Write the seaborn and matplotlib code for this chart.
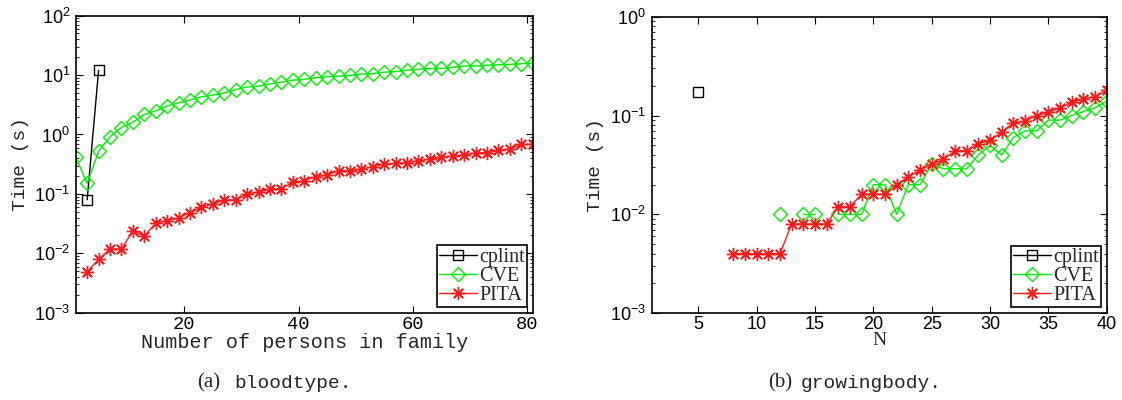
import numpy as np
import pandas as pd
import matplotlib
matplotlib.use("Agg")
import matplotlib.pyplot as plt
import seaborn as sns
from matplotlib.lines import Line2D
from matplotlib.ticker import LogLocator, FixedLocator, NullLocator, NullFormatter

# ---------------- data: (a) bloodtype ----------------
bt_cplint_x = [3, 5]
bt_cplint_y = [0.08, 12.0]

bt_cve_x = [1, 3, 5, 7, 9, 11, 13, 15, 17, 19, 21, 23, 25, 27, 29, 31, 33, 35, 37, 39, 41,
            43, 45, 47, 49, 51, 53, 55, 57, 59, 61, 63, 65, 67, 69, 71, 73, 75, 77, 79, 81]
bt_cve_y = [0.42, 0.15, 0.52, 0.91, 1.31, 1.61, 2.17, 2.5, 3.0, 3.4, 3.8, 4.3, 4.6, 5.0,
            5.7, 6.3, 6.5, 7.1, 7.6, 8.2, 8.5, 9.0, 9.4, 9.6, 9.9, 10.4, 10.5, 11.2, 11.4,
            12.1, 12.5, 12.9, 12.9, 13.5, 14.2, 14.2, 14.6, 14.9, 15.1, 15.5, 15.9]

bt_pita_x = [3, 5, 7, 9, 11, 13, 15, 17, 19, 21, 23, 25, 27, 29, 31, 33, 35, 37, 39, 41,
             43, 45, 47, 49, 51, 53, 55, 57, 59, 61, 63, 65, 67, 69, 71, 73, 75, 77, 79, 81]
bt_pita_y = [0.0049, 0.0079, 0.0118, 0.0118, 0.0238, 0.0196, 0.032, 0.0356, 0.0394, 0.0485,
             0.0596, 0.0678, 0.079, 0.079, 0.100, 0.108, 0.120, 0.123, 0.157, 0.166,
             0.196, 0.209, 0.244, 0.244, 0.261, 0.289, 0.316, 0.325, 0.337, 0.36,
             0.389, 0.41, 0.43, 0.45, 0.49, 0.49, 0.54, 0.57, 0.68, 0.68]

# ---------------- data: (b) growingbody ----------------
gb_cplint_x = [5]
gb_cplint_y = [0.175]

gb_cve_x = [12, 13, 14, 15, 16, 17, 18, 19, 20, 21, 22, 23, 24, 25, 26, 27, 28, 29, 30,
            31, 32, 33, 34, 35, 36, 37, 38, 39, 40]
gb_cve_y = [0.01, np.nan, 0.01, 0.01, np.nan, 0.01, 0.01, 0.01, 0.02, 0.02, 0.01, 0.02,
            0.02, 0.032, 0.029, 0.029, 0.029, 0.04, 0.05, 0.04, 0.06, 0.07, 0.07, 0.09,
            0.09, 0.10, 0.11, 0.12, 0.14]

gb_pita_x = [8, 9, 10, 11, 12, 13, 14, 15, 16, 17, 18, 19, 20, 21, 22, 23, 24, 25, 26, 27,
             28, 29, 30, 31, 32, 33, 34, 35, 36, 37, 38, 39, 40]
gb_pita_y = [0.004, 0.004, 0.004, 0.004, 0.004, 0.008, 0.008, 0.008, 0.008, 0.012, 0.012,
             0.016, 0.016, 0.016, 0.020, 0.024, 0.028, 0.032, 0.036, 0.044, 0.044, 0.052,
             0.056, 0.068, 0.084, 0.088, 0.100, 0.108, 0.120, 0.136, 0.148, 0.156, 0.180]

series_labels = ["cplint", "CVE", "PITA"]
bt_xticks = [20, 40, 60, 80]
gb_xticks = [5, 10, 15, 20, 25, 30, 35, 40]
captions = [("(a)", "bloodtype."), ("(b)", "growingbody.")]

# ---------------- style ----------------
sns.set_theme(style="ticks")
plt.rcParams["font.family"] = ["Liberation Sans", "DejaVu Sans"]
plt.rcParams["mathtext.fontset"] = "custom"
plt.rcParams["mathtext.rm"] = "Liberation Sans"
plt.rcParams["mathtext.it"] = "Liberation Sans:italic"
plt.rcParams["mathtext.default"] = "regular"

MONO = "Liberation Mono"
SERIF = "Liberation Serif"

STY = {
    "cplint": dict(color="black", marker="s", markersize=7.5, markerfacecolor="none"),
    "CVE": dict(color="#00f000", marker="D", markersize=6.8, markerfacecolor="none"),
    "PITA": dict(color="#ff1a1a", marker=(8, 2, 0), markersize=9.5, markerfacecolor="none"),
}


def draw(ax, x, y, name):
    st = STY[name]
    y = np.asarray(y, dtype=float)
    seg = np.cumsum(np.isnan(y))
    df = pd.DataFrame({"x": x, "y": y, "seg": seg}).dropna()
    sns.lineplot(data=df, x="x", y="y", units="seg", estimator=None, ax=ax,
                 color=st["color"], linewidth=1.0, marker=st["marker"],
                 markersize=st["markersize"], markerfacecolor=st["markerfacecolor"],
                 markeredgecolor=st["color"], markeredgewidth=1.0, legend=False)


fig = plt.figure(figsize=(11.22, 4.0), dpi=100)
ax1 = fig.add_axes([0.0675, 0.218, 0.4073, 0.743])
ax2 = fig.add_axes([0.5808, 0.217, 0.4056, 0.741])

draw(ax1, bt_cplint_x, bt_cplint_y, "cplint")
draw(ax1, bt_cve_x, bt_cve_y, "CVE")
draw(ax1, bt_pita_x, bt_pita_y, "PITA")

draw(ax2, gb_cplint_x, gb_cplint_y, "cplint")
draw(ax2, gb_cve_x, gb_cve_y, "CVE")
draw(ax2, gb_pita_x, gb_pita_y, "PITA")

for ax, ylim in ((ax1, (1e-3, 1e2)), (ax2, (1e-3, 1e0))):
    ax.set_yscale("log")
    ax.set_ylim(*ylim)
    ax.yaxis.set_major_locator(LogLocator(base=10, numticks=10))
    ax.yaxis.set_minor_locator(LogLocator(base=10, subs=np.arange(2, 10), numticks=10))
    ax.yaxis.set_minor_formatter(NullFormatter())
    ax.xaxis.set_minor_locator(NullLocator())
    ax.tick_params(which="both", direction="in", top=True, right=True, colors="black")
    ax.tick_params(which="major", length=5, width=0.8, labelsize=13, pad=4)
    ax.tick_params(which="minor", length=2.5, width=0.6)
    ax.tick_params(axis="x", which="major", pad=2)
    for s in ax.spines.values():
        s.set_color("black")
        s.set_linewidth(1.2)
    ax.set_ylabel("Time (s)", fontfamily=MONO, fontsize=14, labelpad=4)
    for lab in ax.get_yticklabels():
        lab.set_fontfamily("Liberation Sans")

ax1.set_xlim(1, 81)
ax1.xaxis.set_major_locator(FixedLocator(bt_xticks))
ax1.set_xticklabels([str(t) for t in bt_xticks], fontfamily=MONO, fontsize=13.5)
ax1.set_xlabel("Number of persons in family", fontfamily=MONO, fontsize=14.5, labelpad=0)

ax2.set_xlim(1, 40)
ax2.xaxis.set_major_locator(FixedLocator(gb_xticks))
ax2.set_xticklabels([str(t) for t in gb_xticks], fontfamily="Liberation Sans", fontsize=13)
ax2.set_xlabel("N", fontfamily=SERIF, fontsize=14, labelpad=-1)

# legends
handles = []
for name in series_labels:
    st = STY[name]
    handles.append(Line2D([], [], color=st["color"], lw=1.0, marker=st["marker"],
                          markersize=st["markersize"], markerfacecolor="none",
                          markeredgecolor=st["color"], markeredgewidth=1.0))
for ax in (ax1, ax2):
    leg = ax.legend(handles, series_labels, loc="lower right", prop={"family": SERIF, "size": 14.5},
                    frameon=True, fancybox=False, edgecolor="black", framealpha=1,
                    borderpad=0.1, labelspacing=0.0, handlelength=1.9, handletextpad=0.1,
                    borderaxespad=0.3)
    leg.get_frame().set_linewidth(1.2)

# captions
fig.text(220 / 1122, 1 - 383 / 400, captions[0][0], ha="right", va="center",
         fontfamily=SERIF, fontsize=15)
fig.text(234 / 1122, 1 - 383 / 400, captions[0][1], ha="left", va="center",
         fontfamily=MONO, fontsize=14)
fig.text(792 / 1122, 1 - 383 / 400, captions[1][0], ha="right", va="center",
         fontfamily=SERIF, fontsize=15)
fig.text(801 / 1122, 1 - 383 / 400, captions[1][1], ha="left", va="center",
         fontfamily=MONO, fontsize=14)

fig.savefig("out.png", dpi=100)
